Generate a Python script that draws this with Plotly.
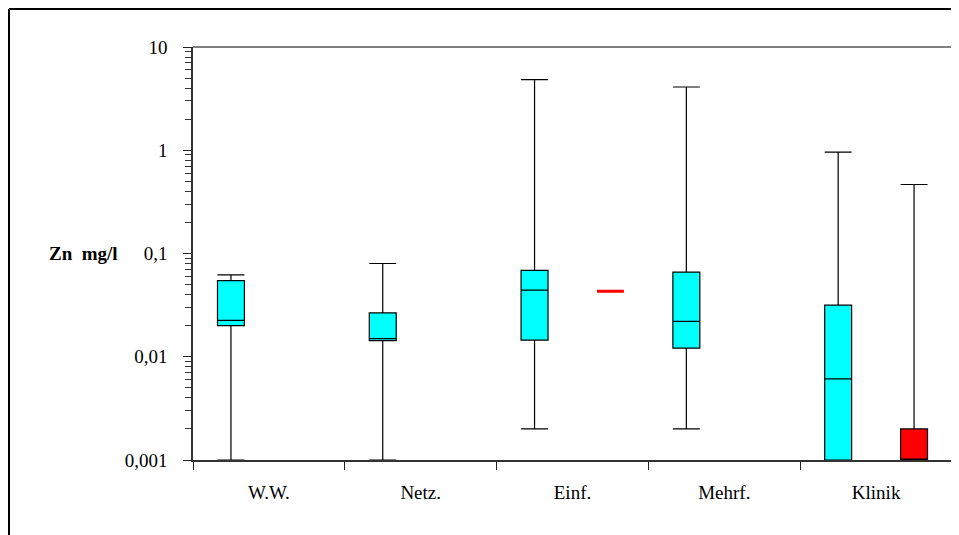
import plotly.graph_objects as go

categories = ["W.W.", "Netz.", "Einf.", "Mehrf.", "Klinik"]

# cyan series (all categories)
cyan_lower = [0.001, 0.001, 0.002, 0.002, 0.001]
cyan_q1 = [0.020, 0.0143, 0.0145, 0.0121, 0.001]
cyan_median = [0.0225, 0.015, 0.0441, 0.022, 0.0061]
cyan_q3 = [0.0547, 0.0266, 0.0685, 0.0659, 0.0316]
cyan_upper = [0.062, 0.080, 4.83, 4.1, 0.957]

# red series (Einf. single value, Klinik)
red_cats = ["Einf.", "Klinik"]
red_lower = [0.0432, 0.001]
red_q1 = [0.0432, 0.001]
red_median = [0.0432, 0.001]
red_q3 = [0.0432, 0.002]
red_upper = [0.0432, 0.466]

y_tickvals = [0.001, 0.01, 0.1, 1, 10]
y_ticktext = ["0,001", "0,01", "0,1", "1", "10"]

W, H = 951, 527
ML, MR, MT, MB = 185, 7, 39, 75
PW = W - ML - MR
PH = H - MT - MB

fig = go.Figure()

fig.add_trace(go.Box(
    x=categories, lowerfence=cyan_lower, q1=cyan_q1, median=cyan_median,
    q3=cyan_q3, upperfence=cyan_upper,
    fillcolor="#00FFFF", line=dict(color="#000000", width=1.2),
    whiskerwidth=1, offsetgroup="c", name="cyan", showlegend=False,
    boxpoints=False, hoverinfo="skip"))

fig.add_trace(go.Box(
    x=red_cats[:1], lowerfence=red_lower[:1], q1=red_q1[:1], median=red_median[:1],
    q3=red_q3[:1], upperfence=red_upper[:1],
    fillcolor="#FF0000", line=dict(color="#FF0000", width=3),
    whiskerwidth=1, offsetgroup="r", name="red1", showlegend=False,
    boxpoints=False, hoverinfo="skip"))

fig.add_trace(go.Box(
    x=red_cats[1:], lowerfence=red_lower[1:], q1=red_q1[1:], median=red_median[1:],
    q3=red_q3[1:], upperfence=red_upper[1:],
    fillcolor="#FF0000", line=dict(color="#000000", width=1.2),
    whiskerwidth=1, offsetgroup="r", name="red2", showlegend=False,
    boxpoints=False, hoverinfo="skip"))

font_family = "Liberation Serif"

fig.update_layout(
    width=W, height=H,
    margin=dict(l=ML, r=MR, t=MT, b=MB),
    paper_bgcolor="white", plot_bgcolor="white",
    boxmode="group", boxgap=0, boxgroupgap=0.645,
    font=dict(family=font_family, size=19, color="black"),
    showlegend=False,
)

fig.update_xaxes(
    type="category", categoryorder="array", categoryarray=categories,
    tickson="boundaries", ticks="outside", ticklen=8, tickcolor="#222",
    showline=True, linecolor="#333", linewidth=1.5,
    showgrid=False, zeroline=False,
    tickfont=dict(family=font_family, size=19),
    ticklabelstandoff=14,
    range=[-0.5, 4.5],
)

fig.update_yaxes(
    type="log", range=[-3, 1],
    tickvals=y_tickvals, ticktext=y_ticktext,
    ticks="outside", ticklen=8, tickcolor="#222",
    minor=dict(ticks="outside", ticklen=6, tickcolor="#333", dtick="D1", showgrid=False),
    showline=True, linecolor="#333", linewidth=1.5,
    showgrid=False, zeroline=False,
    tickfont=dict(family=font_family, size=19),
    ticklabelstandoff=12,
)

# gray border on top and right of the plot area
fig.add_shape(type="line", xref="paper", yref="paper", x0=0, x1=1, y0=1, y1=1,
              line=dict(color="#808080", width=2))
fig.add_shape(type="line", xref="paper", yref="paper", x0=1, x1=1, y0=0, y1=1,
              line=dict(color="#808080", width=2))

# outer black frame (top and left edges)
fx = (1 - ML) / PW
fy = 1 + (MT - 1) / PH
fig.add_shape(type="line", xref="paper", yref="paper", x0=fx, x1=1.2, y0=fy, y1=fy,
              line=dict(color="black", width=2))
fig.add_shape(type="line", xref="paper", yref="paper", x0=fx, x1=fx, y0=fy, y1=-0.3,
              line=dict(color="black", width=2))

fig.add_annotation(text="<b>Zn  mg/l</b>", xref="paper", yref="y",
                   x=(112 - ML) / PW, y=-1, xanchor="right", yanchor="middle",
                   showarrow=False, font=dict(family=font_family, size=19))

fig.write_html("out.html")
